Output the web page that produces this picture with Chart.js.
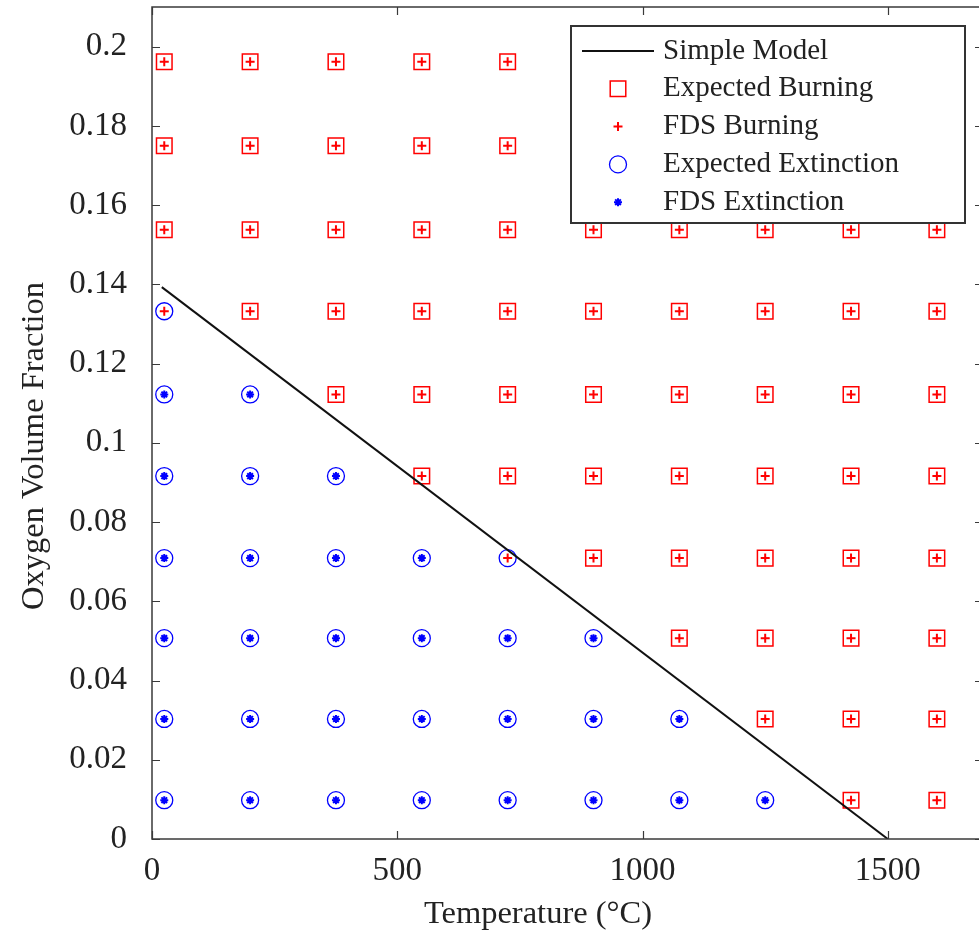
<!DOCTYPE html>
<html>
<head>
<meta charset="utf-8">
<script src="https://cdn.jsdelivr.net/npm/chart.js@4.4.1/dist/chart.umd.min.js"></script>
<style>
  html, body { margin: 0; padding: 0; background: #ffffff; overflow: hidden; }
  #wrap { width: 979px; height: 936px; position: relative; overflow: hidden; }
  #c { display: block; }
</style>
</head>
<body>
<div id="wrap"><canvas id="c" width="986" height="936"></canvas></div>
<script>
// ---- data ----
const temperatures = [25, 200, 375, 550, 725, 900, 1075, 1250, 1425, 1600];
const oxygenLevels = [0.0098, 0.0303, 0.0507, 0.0709, 0.0916, 0.1122, 0.1332, 0.1538, 0.175, 0.1962];
// per oxygen row (bottom to top): how many of the lowest temperatures are extinction cases
const expectedExtinctionCount = [8, 7, 6, 5, 3, 2, 1, 0, 0, 0];
const fdsExtinctionCount      = [8, 7, 6, 4, 3, 2, 0, 0, 0, 0];
const modelTemperature = [20, 1500];
const modelOxygen = [0.1393, 0];
const xTickValues = [0, 500, 1000, 1500];
const yTickValues = [0, 0.02, 0.04, 0.06, 0.08, 0.1, 0.12, 0.14, 0.16, 0.18, 0.2];
const xTitle = 'Temperature (°C)';
const yTitle = 'Oxygen Volume Fraction';

const expBurn = [], expExt = [], fdsBurn = [], fdsExt = [];
oxygenLevels.forEach((o, r) => {
  temperatures.forEach((t, c) => {
    if (c < expectedExtinctionCount[r]) expExt.push({x: t, y: o}); else expBurn.push({x: t, y: o});
    if (c < fdsExtinctionCount[r]) fdsExt.push({x: t, y: o}); else fdsBurn.push({x: t, y: o});
  });
});
const modelLine = modelTemperature.map((t, i) => ({x: t, y: modelOxygen[i]}));

const FONT = "'Liberation Serif', 'Times New Roman', serif";
const TEXT = '#222222';
const AXIS = '#3a3a3a';

function legendMarker(ctx, ds, x, y) {
  ctx.save();
  ctx.strokeStyle = ds.pointBorderColor;
  ctx.fillStyle = 'rgba(0,0,0,0)';
  ctx.lineWidth = ds.pointBorderWidth;
  Chart.helpers.drawPoint(ctx, {
    pointStyle: ds.pointStyle, radius: ds.pointRadius, rotation: 0,
    borderWidth: ds.pointBorderWidth
  }, x, y);
  ctx.restore();
}

const framePlugin = {
  id: 'frame',
  afterDraw(chart) {
    const {ctx, chartArea: a, scales} = chart;
    ctx.save();
    // axes box
    ctx.strokeStyle = AXIS;
    ctx.lineWidth = 1.5;
    ctx.strokeRect(a.left, a.top, a.right - a.left, a.bottom - a.top);
    // inward ticks on all four sides
    ctx.lineWidth = 1.2;
    const tl = 8;
    ctx.beginPath();
    scales.x.ticks.forEach(t => {
      const px = Math.round(scales.x.getPixelForValue(t.value)) + 0.5;
      ctx.moveTo(px, a.bottom); ctx.lineTo(px, a.bottom - tl);
      ctx.moveTo(px, a.top); ctx.lineTo(px, a.top + tl);
    });
    scales.y.ticks.forEach(t => {
      const py = Math.round(scales.y.getPixelForValue(t.value)) + 0.5;
      ctx.moveTo(a.left, py); ctx.lineTo(a.left + tl, py);
      ctx.moveTo(a.right, py); ctx.lineTo(a.right - tl, py);
    });
    ctx.stroke();

    // axis titles
    ctx.fillStyle = TEXT;
    ctx.font = '32.5px ' + FONT;
    ctx.textAlign = 'center';
    ctx.textBaseline = 'middle';
    ctx.fillText(xTitle, 538, 914);
    ctx.save();
    ctx.translate(34, 446);
    ctx.rotate(-Math.PI / 2);
    ctx.fillText(yTitle, 0, 0);
    ctx.restore();

    // legend (inside, north-east)
    const w = 394, h = 197;
    const L = a.right - 18 - w, T = a.top + 19;
    ctx.fillStyle = '#ffffff';
    ctx.fillRect(L, T, w, h);
    ctx.strokeStyle = '#333333';
    ctx.lineWidth = 2;
    ctx.strokeRect(L, T, w, h);
    ctx.font = '29px ' + FONT;
    ctx.textBaseline = 'middle';
    ctx.textAlign = 'left';
    chart.data.datasets.forEach((ds, i) => {
      const cy = T + 25 + i * 37.8;
      const cx = L + 47;
      if (ds.showLine) {
        ctx.strokeStyle = ds.borderColor;
        ctx.lineWidth = ds.borderWidth;
        ctx.beginPath(); ctx.moveTo(L + 11, cy); ctx.lineTo(L + 83, cy); ctx.stroke();
      } else {
        legendMarker(ctx, ds, cx, cy);
      }
      ctx.fillStyle = TEXT;
      ctx.fillText(ds.label, L + 92, cy);
    });
    ctx.restore();
  }
};

const pointDs = (label, data, color, style, radius, bw) => ({
  label, data, type: 'scatter', showLine: false,
  pointStyle: style, pointRadius: radius, pointHoverRadius: radius,
  pointBorderColor: color, pointBackgroundColor: 'rgba(0,0,0,0)',
  pointBorderWidth: bw, borderColor: color, backgroundColor: 'rgba(0,0,0,0)'
});

const datasets = [
  { label: 'Simple Model', data: modelLine, type: 'line', showLine: true,
    borderColor: '#111111', borderWidth: 2, pointRadius: 0, fill: false, tension: 0 },
  pointDs('Expected Burning', expBurn, '#ff0000', 'rect', 11, 1.5),
  pointDs('FDS Burning', fdsBurn, '#ff0000', 'cross', 4.5, 2),
  pointDs('Expected Extinction', expExt, '#0000ff', 'circle', 8.5, 1.3),
  pointDs('FDS Extinction', fdsExt, '#0000ff', 'star', 4, 2)
];

const keepTicks = (vals) => (scale) => {
  scale.ticks = vals.map(v => ({value: v}));
};

new Chart(document.getElementById('c'), {
  type: 'scatter',
  data: { datasets },
  plugins: [framePlugin],
  options: {
    responsive: false,
    animation: false,
    events: [],
    layout: { autoPadding: false, padding: { left: 0, top: 7, right: 3, bottom: 0 } },
    plugins: { legend: { display: false }, tooltip: { enabled: false } },
    scales: {
      x: {
        type: 'linear', min: 0, max: 1694,
        afterBuildTicks: keepTicks(xTickValues),
        afterFit: (s) => { s.height = 97; s.paddingLeft = 0; s.paddingRight = 0; s.paddingTop = 0; s.paddingBottom = 0; },
        grid: { display: false, drawTicks: false },
        border: { display: false },
        ticks: { padding: 13, color: TEXT, font: { family: FONT, size: 33 },
                 callback: (v) => String(v), maxRotation: 0, autoSkip: false },
        title: { display: false }
      },
      y: {
        type: 'linear', min: 0, max: 0.21,
        afterBuildTicks: keepTicks(yTickValues),
        afterFit: (s) => { s.width = 152; s.paddingLeft = 0; s.paddingRight = 0; s.paddingTop = 0; s.paddingBottom = 0; },
        grid: { display: false, drawTicks: false },
        border: { display: false },
        ticks: { padding: 25, color: TEXT, font: { family: FONT, size: 33 },
                 callback: (v) => String(Number(v.toFixed(2))), autoSkip: false },
        title: { display: false }
      }
    }
  }
});
</script>
</body>
</html>
